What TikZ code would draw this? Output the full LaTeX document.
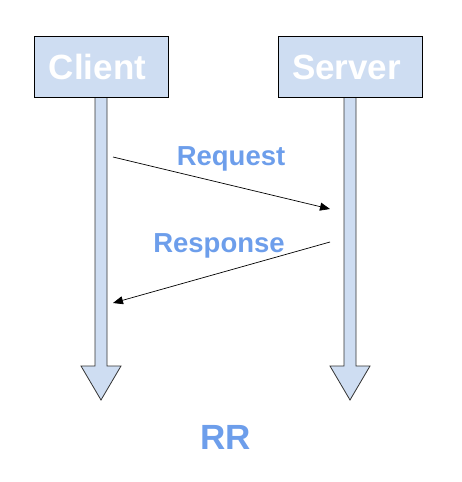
\documentclass[tikz,border=0pt]{standalone}
\usepackage{fontspec}
\setmainfont{Liberation Sans}
\usetikzlibrary{arrows.meta}
\definecolor{boxfill}{HTML}{CEDDF2}
\definecolor{lblue}{HTML}{6D9EEB}
\definecolor{edge}{HTML}{333333}
\tikzset{
  actor/.style={draw=black, line width=1pt, fill=boxfill, text=white, font=\fontsize{35}{35}\selectfont\bfseries, inner sep=0pt, anchor=north west},
  lifeline/.style={draw=edge, line width=0.8pt, fill=boxfill, line join=miter},
  msg/.style={draw=black, line width=0.7pt, -{Triangle[length=10pt,width=8pt]}},
  lbl/.style={text=lblue, font=\fontsize{27.5}{27.5}\selectfont\bfseries, inner sep=0pt},
}
\begin{document}
\begin{tikzpicture}[x=1pt,y=-1pt]
\useasboundingbox (0,0) rectangle (461,482);
% lifelines
\path[lifeline] (95,97) -- (95,366) -- (81,366) -- (101,400) -- (121,366) -- (107,366) -- (107,97);
\path[lifeline] (344,97) -- (344,366) -- (330,366) -- (350,400) -- (370,366) -- (356,366) -- (356,97);
% actors
\node[actor, minimum width=134pt, minimum height=61pt] (client) at (34,36) {Client\hspace*{8pt}};
\node[actor, minimum width=144pt, minimum height=61pt] (server) at (278,36) {Server\hspace*{8pt}};
% messages
\coordinate (rqs) at (113,157);
\coordinate (rqe) at (330,209);
\coordinate (rss) at (330,242);
\coordinate (rse) at (113,303);
\draw[msg] (rqs) -- (rqe);
\draw[msg] (rss) -- (rse);
\node[lbl] (req) at (231,159) {Request};
\node[lbl] (resp) at (219,246) {Response};
\node[lbl, font=\fontsize{35}{35}\selectfont\bfseries] (rr) at (226,437) {RR};
\end{tikzpicture}
\end{document}
